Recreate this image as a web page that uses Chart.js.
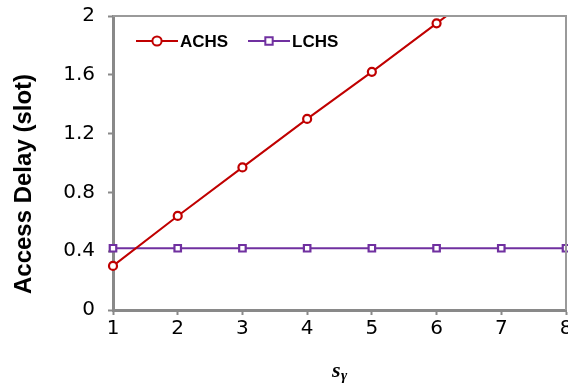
<!DOCTYPE html>
<html>
<head>
<meta charset="utf-8">
<script src="https://cdn.jsdelivr.net/npm/chart.js@4/dist/chart.umd.min.js"></script>
<style>
  html, body { margin: 0; padding: 0; background: #fff; overflow: hidden; }
  #wrap { width: 574px; height: 384px; }
</style>
</head>
<body>
<div id="wrap"><canvas id="delayChart" width="574" height="384"></canvas></div>
<script>
const sValues = ['1', '2', '3', '4', '5', '6', '7', '8'];
const achsDelay = [0.30, 0.64, 0.97, 1.30, 1.62, 1.95, 2.28, 2.61];
const lchsDelay = [0.42, 0.42, 0.42, 0.42, 0.42, 0.42, 0.42, 0.42];
const yTicks = [0, 0.4, 0.8, 1.2, 1.6, 2];

const axisGray = '#898989';
const tickFont = { family: '"DejaVu Sans", sans-serif', size: 20 };

// frame on top/right, legend inside the plot, axis titles
const extras = {
  id: 'extras',
  afterDraw(chart) {
    const ctx = chart.ctx;
    const a = chart.chartArea;
    ctx.save();

    ctx.strokeStyle = '#9a9a9a';
    ctx.lineWidth = 2;
    ctx.beginPath();
    ctx.moveTo(a.left, a.top);
    ctx.lineTo(a.right, a.top);
    ctx.lineTo(a.right, a.bottom);
    ctx.stroke();

    // legend
    const starts = [136, 248];
    const y = 41;
    chart.data.datasets.forEach((ds, i) => {
      const x = starts[i];
      ctx.strokeStyle = ds.borderColor;
      ctx.lineWidth = 2;
      ctx.beginPath();
      ctx.moveTo(x, y);
      ctx.lineTo(x + 42, y);
      ctx.stroke();
      ctx.fillStyle = '#fff';
      Chart.helpers.drawPoint(ctx, {
        pointStyle: ds.pointStyle,
        radius: ds.pointRadius + 0.6,
        rotation: 0,
        borderWidth: 2
      }, x + 21, y);
      ctx.fillStyle = '#000';
      ctx.font = 'bold 17px "Liberation Sans", Arial, sans-serif';
      ctx.textAlign = 'left';
      ctx.textBaseline = 'middle';
      ctx.fillText(ds.label, x + 44, y + 1);
    });

    // y title
    ctx.save();
    ctx.translate(24, 184);
    ctx.rotate(-Math.PI / 2);
    ctx.fillStyle = '#000';
    ctx.font = 'bold 24px "Liberation Sans", Arial, sans-serif';
    ctx.textAlign = 'center';
    ctx.textBaseline = 'middle';
    ctx.fillText('Access Delay (slot)', 0, 0);
    ctx.restore();

    // x title: s with subscript gamma
    ctx.fillStyle = '#000';
    ctx.textAlign = 'left';
    ctx.textBaseline = 'alphabetic';
    ctx.font = 'bold italic 22px "Liberation Serif", serif';
    ctx.fillText('s', 332, 377);
    ctx.font = 'bold italic 15px "Liberation Serif", serif';
    ctx.fillText('γ', 341, 380);

    ctx.restore();
  }
};

const ctx = document.getElementById('delayChart').getContext('2d');
const chart = new Chart(ctx, {
  type: 'line',
  data: {
    labels: sValues,
    datasets: [
      {
        label: 'ACHS',
        data: achsDelay,
        borderColor: '#c00000',
        borderWidth: 2,
        pointStyle: 'circle',
        pointRadius: 4,
        pointBorderWidth: 2.2,
        pointBackgroundColor: '#fff',
        pointBorderColor: '#c00000',
        tension: 0,
        clip: { left: 8, right: 8, top: 0, bottom: 8 }
      },
      {
        label: 'LCHS',
        data: lchsDelay,
        borderColor: '#7030a0',
        borderWidth: 2,
        pointStyle: 'rect',
        pointRadius: 4.6,
        pointBorderWidth: 2.2,
        pointBackgroundColor: '#fff',
        pointBorderColor: '#7030a0',
        tension: 0,
        clip: false
      }
    ]
  },
  options: {
    responsive: false,
    animation: false,
    events: [],
    layout: { padding: { top: 16, right: 0, left: 0, bottom: 0 } },
    plugins: {
      legend: { display: false },
      tooltip: { enabled: false }
    },
    scales: {
      x: {
        type: 'category',
        offset: false,
        grid: {
          display: true,
          drawOnChartArea: false,
          drawTicks: true,
          tickLength: 5,
          tickColor: axisGray,
          tickWidth: 2,
          color: axisGray
        },
        border: { display: true, color: axisGray, width: 3 },
        ticks: { font: tickFont, color: '#000', padding: 2, maxRotation: 0, autoSkip: false },
        afterFit(s) {
          s.height = 74;
          s.paddingLeft = 0;
          s.paddingRight = 8;
        }
      },
      y: {
        min: 0,
        max: 2,
        grid: {
          display: true,
          drawOnChartArea: false,
          drawTicks: true,
          tickLength: 5,
          tickColor: axisGray,
          tickWidth: 2,
          color: axisGray
        },
        border: { display: true, color: axisGray, width: 3 },
        ticks: { font: tickFont, color: '#000', padding: 13, callback: v => String(v) },
        afterBuildTicks(s) { s.ticks = yTicks.map(v => ({ value: v })); },
        afterFit(s) {
          s.width = 113;
          s.paddingTop = 0;
          s.paddingBottom = 0;
        }
      }
    }
  },
  plugins: [extras]
});
</script>
</body>
</html>
